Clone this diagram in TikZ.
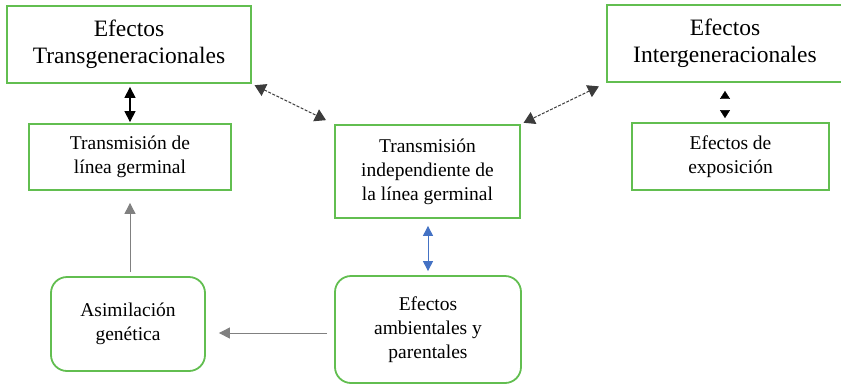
\documentclass[tikz,border=0pt]{standalone}
\usepackage{fontspec}
\setmainfont{Liberation Serif}
\usetikzlibrary{arrows.meta}
\definecolor{mgreen}{RGB}{98, 190, 80}
\definecolor{mblue}{RGB}{68, 114, 196}
\definecolor{mgray}{RGB}{128, 128, 128}
\definecolor{mdark}{RGB}{60, 60, 60}
\tikzset{box/.style = {draw=mgreen, line width=1.8pt, align=center, inner sep=0pt},
         rbox/.style = {box, rounded corners=16pt},
         big/.style = {font=\rmfamily\fontsize{23.5}{27}\selectfont},
         small/.style = {font=\rmfamily\fontsize{19.5}{24}\selectfont},
         dotline/.style = {mdark, line width=1pt, dash pattern=on 3pt off 1.5pt,
                           >={Triangle[length=11pt, width=13pt]}}}

\begin{document}
\begin{tikzpicture}[x=1pt, y=-1pt, >={Triangle[length=11pt, width=11pt]}]
    \useasboundingbox (0, 0) rectangle (841, 384);

    \node [box, big, minimum width=244, minimum height=77] (trans) at (129, 44.5)
        {Efectos\\Transgeneracionales};
    \node [box, small, minimum width=202, minimum height=66] (germ) at (130, 157)
        {Transmisión de\\línea germinal};
    \node [box, small, minimum width=185, minimum height=93] (indep) at (427.5, 171.5)
        {Transmisión\\independiente de\\la línea germinal};
    \node [box, big, minimum width=236, minimum height=77] (inter) at (725, 43.5)
        {Efectos\\Intergeneracionales};
    \node [box, small, minimum width=197, minimum height=67] (expo) at (730.5, 156.5)
        {Efectos de\\exposición};
    \node [rbox, small, minimum width=154, minimum height=94] (asim) at (128, 324)
        {Asimilación\\genética};
    \node [rbox, small, minimum width=186, minimum height=107] (amb) at (428, 329.5)
        {Efectos\\ambientales y\\parentales};
    \coordinate (ambl) at ([yshift=-3.5pt]amb.west);

    \draw [<->, line width=1.2pt, shorten <=3pt, shorten >=1pt] (trans.south -| germ.north) -- (germ.north);
    \draw [dotline, <->, shorten <=3pt, shorten >=9pt] (trans.south east) -- (indep.north west);
    \draw [dotline, <->, shorten <=8pt, shorten >=3pt] (inter.south west) -- (indep.north east);
    \draw [white, <->, >={Triangle[length=8pt, width=10pt, color=black]},
           shorten <=8pt, shorten >=4pt] (inter.south) -- (expo.north -| inter.south);
    \draw [mblue, <->, line width=1pt, >={Triangle[length=10pt, width=10pt]},
           shorten <=7pt, shorten >=4pt] (indep.south -| amb.north) -- (amb.north);
    \draw [mgray, ->, line width=1pt, shorten <=4pt, shorten >=12pt] (asim.north -| germ.south) -- (germ.south);
    \draw [mgray, ->, line width=1pt, shorten <=7pt, shorten >=13pt] (ambl) -- (ambl -| asim.east);
\end{tikzpicture}
\end{document}
